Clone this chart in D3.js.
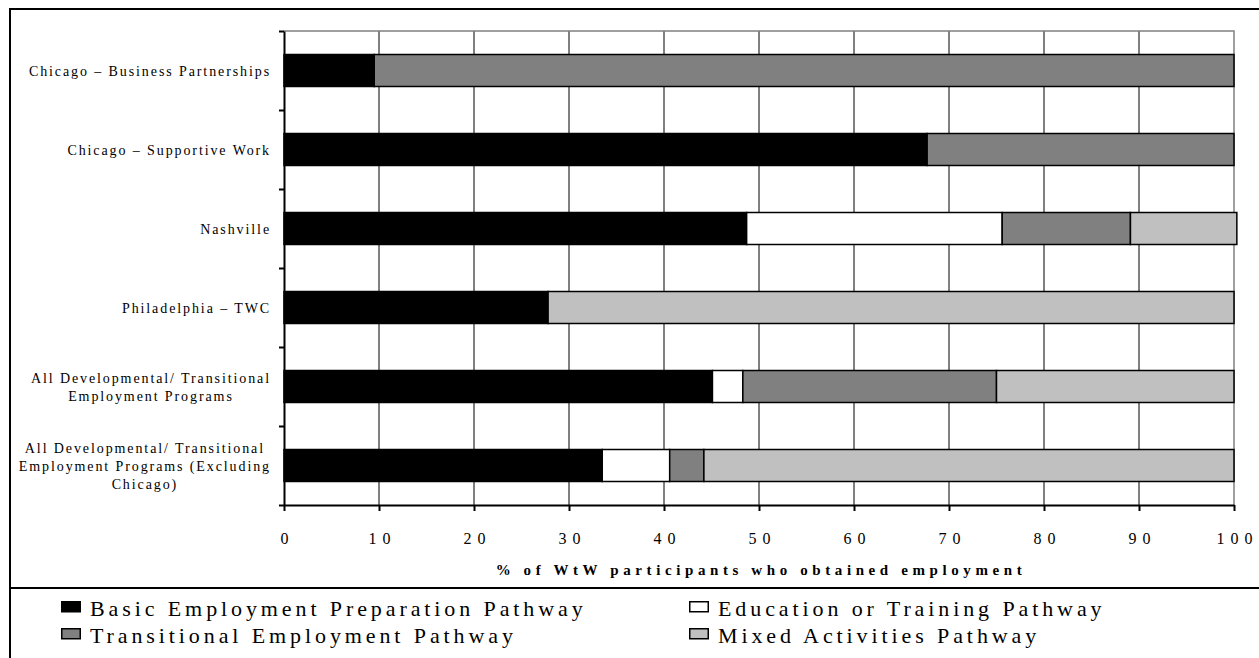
<!doctype html>
<meta charset="utf-8">
<script src="https://d3js.org/d3.v7.min.js"></script>
<style>
  body { margin: 0; background: #fff; }
  text { font-family: "Liberation Serif", "Times New Roman", serif; fill: #000; }
</style>
<body>
</body>
<script>
// data
var programs = [
  ["Chicago – Business Partnerships"],
  ["Chicago – Supportive Work"],
  ["Nashville"],
  ["Philadelphia – TWC"],
  ["All Developmental/ Transitional", "Employment Programs"],
  ["All Developmental/ Transitional", "Employment Programs (Excluding", "Chicago)"]
];
var basicPrep   = [9.5, 67.7, 48.7, 27.8, 45.1, 33.5];
var eduTraining = [0,   0,    26.9, 0,    3.2,  7.1];
var transEmp    = [90.5, 32.3, 13.5, 0,   26.7, 3.6];
var mixedAct    = [0,   0,    11.2, 72.2, 25.0, 55.8];
var xTicks = [0, 10, 20, 30, 40, 50, 60, 70, 80, 90, 100];

var seriesNames = ["Basic Employment Preparation Pathway", "Education or Training Pathway",
                   "Transitional Employment Pathway", "Mixed Activities Pathway"];
var seriesColors = ["#000000", "#ffffff", "#808080", "#c0c0c0"];
var keys = ["basic", "edu", "trans", "mixed"];

var rows = programs.map(function(p, i) {
  return { id: i, basic: basicPrep[i], edu: eduTraining[i], trans: transEmp[i], mixed: mixedAct[i] };
});

var width = 1259, height = 658;
var svg = d3.select("body").append("svg").attr("width", width).attr("height", height);
svg.append("rect").attr("width", width).attr("height", height).attr("fill", "#fff");

var x = d3.scaleLinear().domain([0, 100]).range([284, 1234]);
var y = d3.scaleBand().domain(d3.range(programs.length)).range([31, 505])
          .paddingInner(0.595).paddingOuter(0.2975);
var yEdge = d3.scaleLinear().domain([0, programs.length]).range([31, 505]);

// outer frame: left, top, and separator above the legend
svg.append("path")
   .attr("d", "M10,660 L10,9 L1262,9 M10,588 L1262,588")
   .attr("fill", "none").attr("stroke", "#000").attr("stroke-width", 2);

// grid lines
svg.append("g").selectAll("line")
   .data(xTicks.slice(1, -1)).enter().append("line")
   .attr("x1", function(d){ return x(d); }).attr("x2", function(d){ return x(d); })
   .attr("y1", yEdge(0)).attr("y2", yEdge(programs.length))
   .attr("stroke", "#000").attr("stroke-width", 1);

// plot frame top / right in gray
svg.append("path")
   .attr("d", "M" + x(0) + "," + yEdge(0) + " L" + x(100) + "," + yEdge(0) + " L" + x(100) + "," + yEdge(programs.length))
   .attr("fill", "none").attr("stroke", "#808080").attr("stroke-width", 1.5);

// stacked bars
var stacked = d3.stack().keys(keys)(rows);
svg.append("g").selectAll("g")
   .data(stacked).enter().append("g")
   .attr("fill", function(d, i){ return seriesColors[i]; })
   .selectAll("rect")
   .data(function(d){ return d.filter(function(s){ return s[1] - s[0] > 0; }); })
   .enter().append("rect")
   .attr("x", function(d){ return x(d[0]); })
   .attr("width", function(d){ return x(d[1]) - x(d[0]); })
   .attr("y", function(d){ return y(d.data.id); })
   .attr("height", y.bandwidth())
   .attr("stroke", "#000").attr("stroke-width", 1.5);

// axes
var xAxis = svg.append("g")
   .attr("transform", "translate(0," + yEdge(programs.length) + ")")
   .call(d3.axisBottom(x).tickValues(xTicks).tickSize(6).tickPadding(22).tickSizeOuter(0));
xAxis.select(".domain").attr("stroke", "#000").attr("stroke-width", 2);
xAxis.selectAll(".tick line").attr("stroke", "#000").attr("stroke-width", 2);
xAxis.selectAll(".tick text")
   .attr("font-size", 16).attr("font-family", null).style("letter-spacing", "6px")
   .attr("dx", "3px");

var yAxis = svg.append("g")
   .attr("transform", "translate(" + x(0) + ",0)")
   .call(d3.axisLeft(yEdge).ticks(programs.length).tickSize(5).tickSizeOuter(0).tickFormat(""));
yAxis.select(".domain").attr("stroke", "#000").attr("stroke-width", 2);
yAxis.selectAll(".tick line").attr("stroke", "#000").attr("stroke-width", 2);

// category labels: block right aligned, lines centred within block
var labels = svg.append("g").attr("font-size", 14).style("letter-spacing", "1.9px");
programs.forEach(function(lines, i) {
  var g = labels.append("g");
  var cy = y(i) + y.bandwidth() / 2;
  var lh = 18;
  var ts = g.selectAll("text").data(lines).enter().append("text")
     .attr("y", function(d, k){ return cy + (k - (lines.length - 1) / 2) * lh + 5; })
     .attr("text-anchor", "middle")
     .text(function(d){ return d; });
  var w = d3.max(ts.nodes(), function(n){ return n.getComputedTextLength(); });
  ts.attr("x", 270 - w / 2 + 1);
});

// axis title
svg.append("text")
   .attr("x", (x(0) + x(100)) / 2 + 2).attr("y", 575)
   .attr("text-anchor", "middle").attr("font-size", 15).attr("font-weight", "bold")
   .style("letter-spacing", "4.6px")
   .text("% of WtW participants who obtained employment");

// legend
var legPos = [[61, 601], [689, 601], [61, 628], [689, 628]];
var legOrder = [0, 1, 2, 3];
var leg = svg.append("g").selectAll("g")
   .data(legOrder).enter().append("g")
   .attr("transform", function(d, i){ return "translate(" + legPos[i][0] + "," + legPos[i][1] + ")"; });
leg.append("rect")
   .attr("x", 0.75).attr("y", 0.75).attr("width", 18.5).attr("height", 10)
   .attr("fill", function(d){ return seriesColors[d]; })
   .attr("stroke", "#000").attr("stroke-width", 1.5);
leg.append("text")
   .attr("x", 29).attr("y", 15)
   .attr("font-size", 22).style("letter-spacing", "3.9px")
   .text(function(d){ return seriesNames[d]; });
</script>
